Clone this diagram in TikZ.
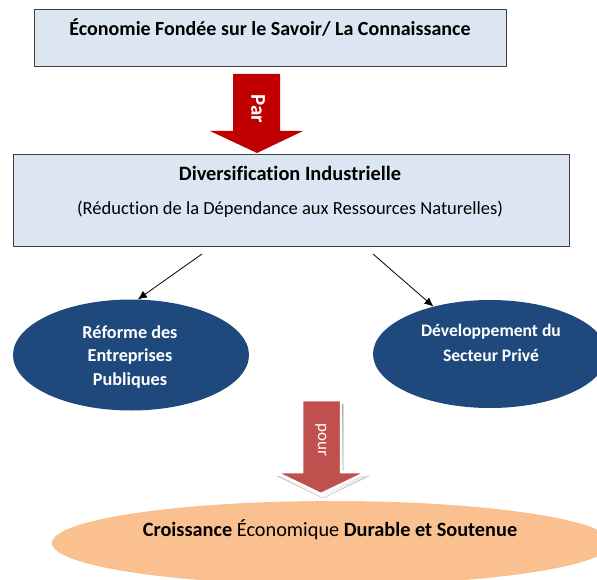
\documentclass[tikz,border=0pt]{standalone}
\usepackage{fontspec}
\setmainfont{Carlito}[Ligatures=NoCommon]
\usetikzlibrary{shapes.geometric,arrows.meta}
\definecolor{boxblue}{HTML}{DCE6F2}
\definecolor{navy}{HTML}{1F497D}
\definecolor{darkred}{HTML}{C00000}
\definecolor{brick}{HTML}{C0504D}
\definecolor{peach}{HTML}{FAC090}
\definecolor{shade}{HTML}{9C7B74}

\begin{document}
\begin{tikzpicture}[x=1pt, y=-1pt,
		box/.style={draw=black!75, line width=0.8pt, fill=boxblue, inner sep=0pt},
		blob/.style={ellipse, fill=navy, inner sep=0pt},
		txt/.style={font=\fontsize{18.5}{24}\selectfont, align=center, inner sep=0pt},
		link/.style={-{Latex[length=9pt,width=8pt]}, line width=0.8pt}]
	\useasboundingbox (0,0) rectangle (597,580);
	\clip (0,0) rectangle (597,580);

	\node[box, minimum width=472pt, minimum height=57pt] (savoir) at (270,37.5) {};
	\node[txt, font=\bfseries\fontsize{20}{22}\selectfont] (savoir-t) at (270,28) {Économie Fondée sur le Savoir/ La Connaissance};

	\fill[darkred] (233,74) -- (280,74) -- (280,131) -- (303,131) -- (257,153) -- (210,131) -- (233,131) -- cycle;
	\node[rotate=-90, text=white, font=\bfseries\fontsize{21}{21}\selectfont] (par) at (258,109) {Par};

	\node[box, minimum width=556pt, minimum height=92pt] (diversif) at (291,200) {};
	\node[txt, font=\bfseries\fontsize{20.4}{22}\selectfont] (diversif-t) at (290,173) {Diversification Industrielle};
	\node[txt] (diversif-s) at (290,209) {(Réduction de la Dépendance aux Ressources Naturelles)};

	\node[blob, minimum width=236pt, minimum height=111pt] (reforme) at (131,355) {};
	\node[txt, font=\bfseries\fontsize{18.2}{23.5}\selectfont, text=white] (reforme-t) at (130,357) {Réforme des\\Entreprises\\Publiques};

	\node[blob, minimum width=234pt, minimum height=108pt] (prive) at (490,354) {};
	\node[txt, font=\bfseries\fontsize{17.6}{24.5}\selectfont, text=white] (prive-t) at (491,343) {Développement du\\Secteur Privé};

	\coordinate (l0) at (202,254);
	\coordinate (r0) at (373,254);
	\draw[link] (l0) -- (reforme.83);
	\draw[link] (r0) -- (prive.140);

	\begin{scope}[shift={(2,4)}]
		\fill[shade] (302,400) -- (341,400) -- (341,472) -- (367,472) -- (321,494) -- (275,472) -- (302,472) -- cycle;
	\end{scope}
	\draw[white, line width=2.5pt, fill=brick, line join=miter] (302,400) -- (341,400) -- (341,472) -- (367,472) -- (321,494) -- (275,472) -- (302,472) -- cycle;
	\node[rotate=-90, text=white, font=\fontsize{17}{17}\selectfont] (pour) at (321,440) {pour};

	\node[ellipse, fill=peach, inner sep=0pt, minimum width=560pt, minimum height=84pt] (croissance) at (332,543) {};
	\node[txt, font=\fontsize{20.3}{22}\selectfont] (croissance-t) at (330,530) {\textbf{Croissance} Économique \textbf{Durable et Soutenue}};
\end{tikzpicture}
\end{document}
